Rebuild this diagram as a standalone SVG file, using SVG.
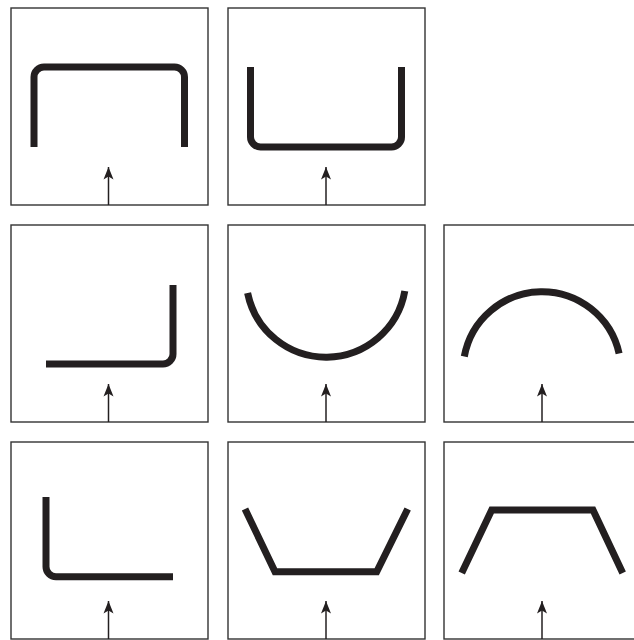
<svg xmlns="http://www.w3.org/2000/svg" width="634" height="640" viewBox="0 0 634 640">
<style>
.frame{fill:#fff;stroke:#333;stroke-width:1.4}
.shape{fill:none;stroke:#231f20;stroke-width:7;stroke-linecap:butt}
.miter{stroke-linejoin:miter;stroke-miterlimit:10}
.arrow{fill:none;stroke:#231f20;stroke-width:1.5;marker-end:url(#ah)}
</style>
<defs>
<marker id="ah" markerUnits="userSpaceOnUse" viewBox="-14 -6 15 12" markerWidth="15" markerHeight="12" refX="0" refY="0" orient="auto">
<path d="M0,0 L-12.5,-5 L-9.5,0 L-12.5,5 Z" fill="#231f20"/>
</marker>
</defs>
<rect width="634" height="640" fill="#fff"/>
<g id="node1">
<rect class="frame" x="11" y="8" width="197" height="197"/>
<path class="shape" d="M34,147 V77 A10,10 0 0 1 44,67 H174.5 A10,10 0 0 1 184.5,77 V147"/>
</g>
<g id="node2">
<rect class="frame" x="228" y="8" width="197" height="197"/>
<path class="shape" d="M250.5,67 V137 A10,10 0 0 0 260.5,147 H391.5 A10,10 0 0 0 401.5,137 V67"/>
</g>
<g id="node3">
<rect class="frame" x="11" y="225" width="197" height="197"/>
<path class="shape" d="M46,364 H163 A10,10 0 0 0 173,354 V285"/>
</g>
<g id="node4">
<rect class="frame" x="228" y="225" width="197" height="197"/>
<path class="shape" d="M247.6,293 A80,80 0 0 0 404.8,291"/>
</g>
<g id="node5">
<rect class="frame" x="444" y="225" width="197" height="197"/>
<path class="shape" d="M464.3,356.5 A79,79 0 0 1 619.1,353.5"/>
</g>
<g id="node6">
<rect class="frame" x="11" y="442" width="197" height="197"/>
<path class="shape" d="M46,497 V566.7 A10,10 0 0 0 56,576.7 H173"/>
</g>
<g id="node7">
<rect class="frame" x="228" y="442" width="197" height="197"/>
<polyline class="shape miter" points="245,509 275,571.7 376.7,571.7 407.7,509"/>
</g>
<g id="node8">
<rect class="frame" x="444" y="442" width="197" height="197"/>
<polyline class="shape miter" points="461.7,573 491.7,510 593,510 622.7,573"/>
</g>
<g id="connectors">
<line class="arrow" x1="108.5" y1="205" x2="108.5" y2="167"/>
<line class="arrow" x1="326" y1="205" x2="326" y2="167"/>
<line class="arrow" x1="108.5" y1="422" x2="108.5" y2="384"/>
<line class="arrow" x1="326" y1="422" x2="326" y2="384"/>
<line class="arrow" x1="542" y1="422" x2="542" y2="384"/>
<line class="arrow" x1="108.5" y1="639" x2="108.5" y2="601"/>
<line class="arrow" x1="326" y1="639" x2="326" y2="601"/>
<line class="arrow" x1="542" y1="639" x2="542" y2="601"/>
</g>
</svg>
